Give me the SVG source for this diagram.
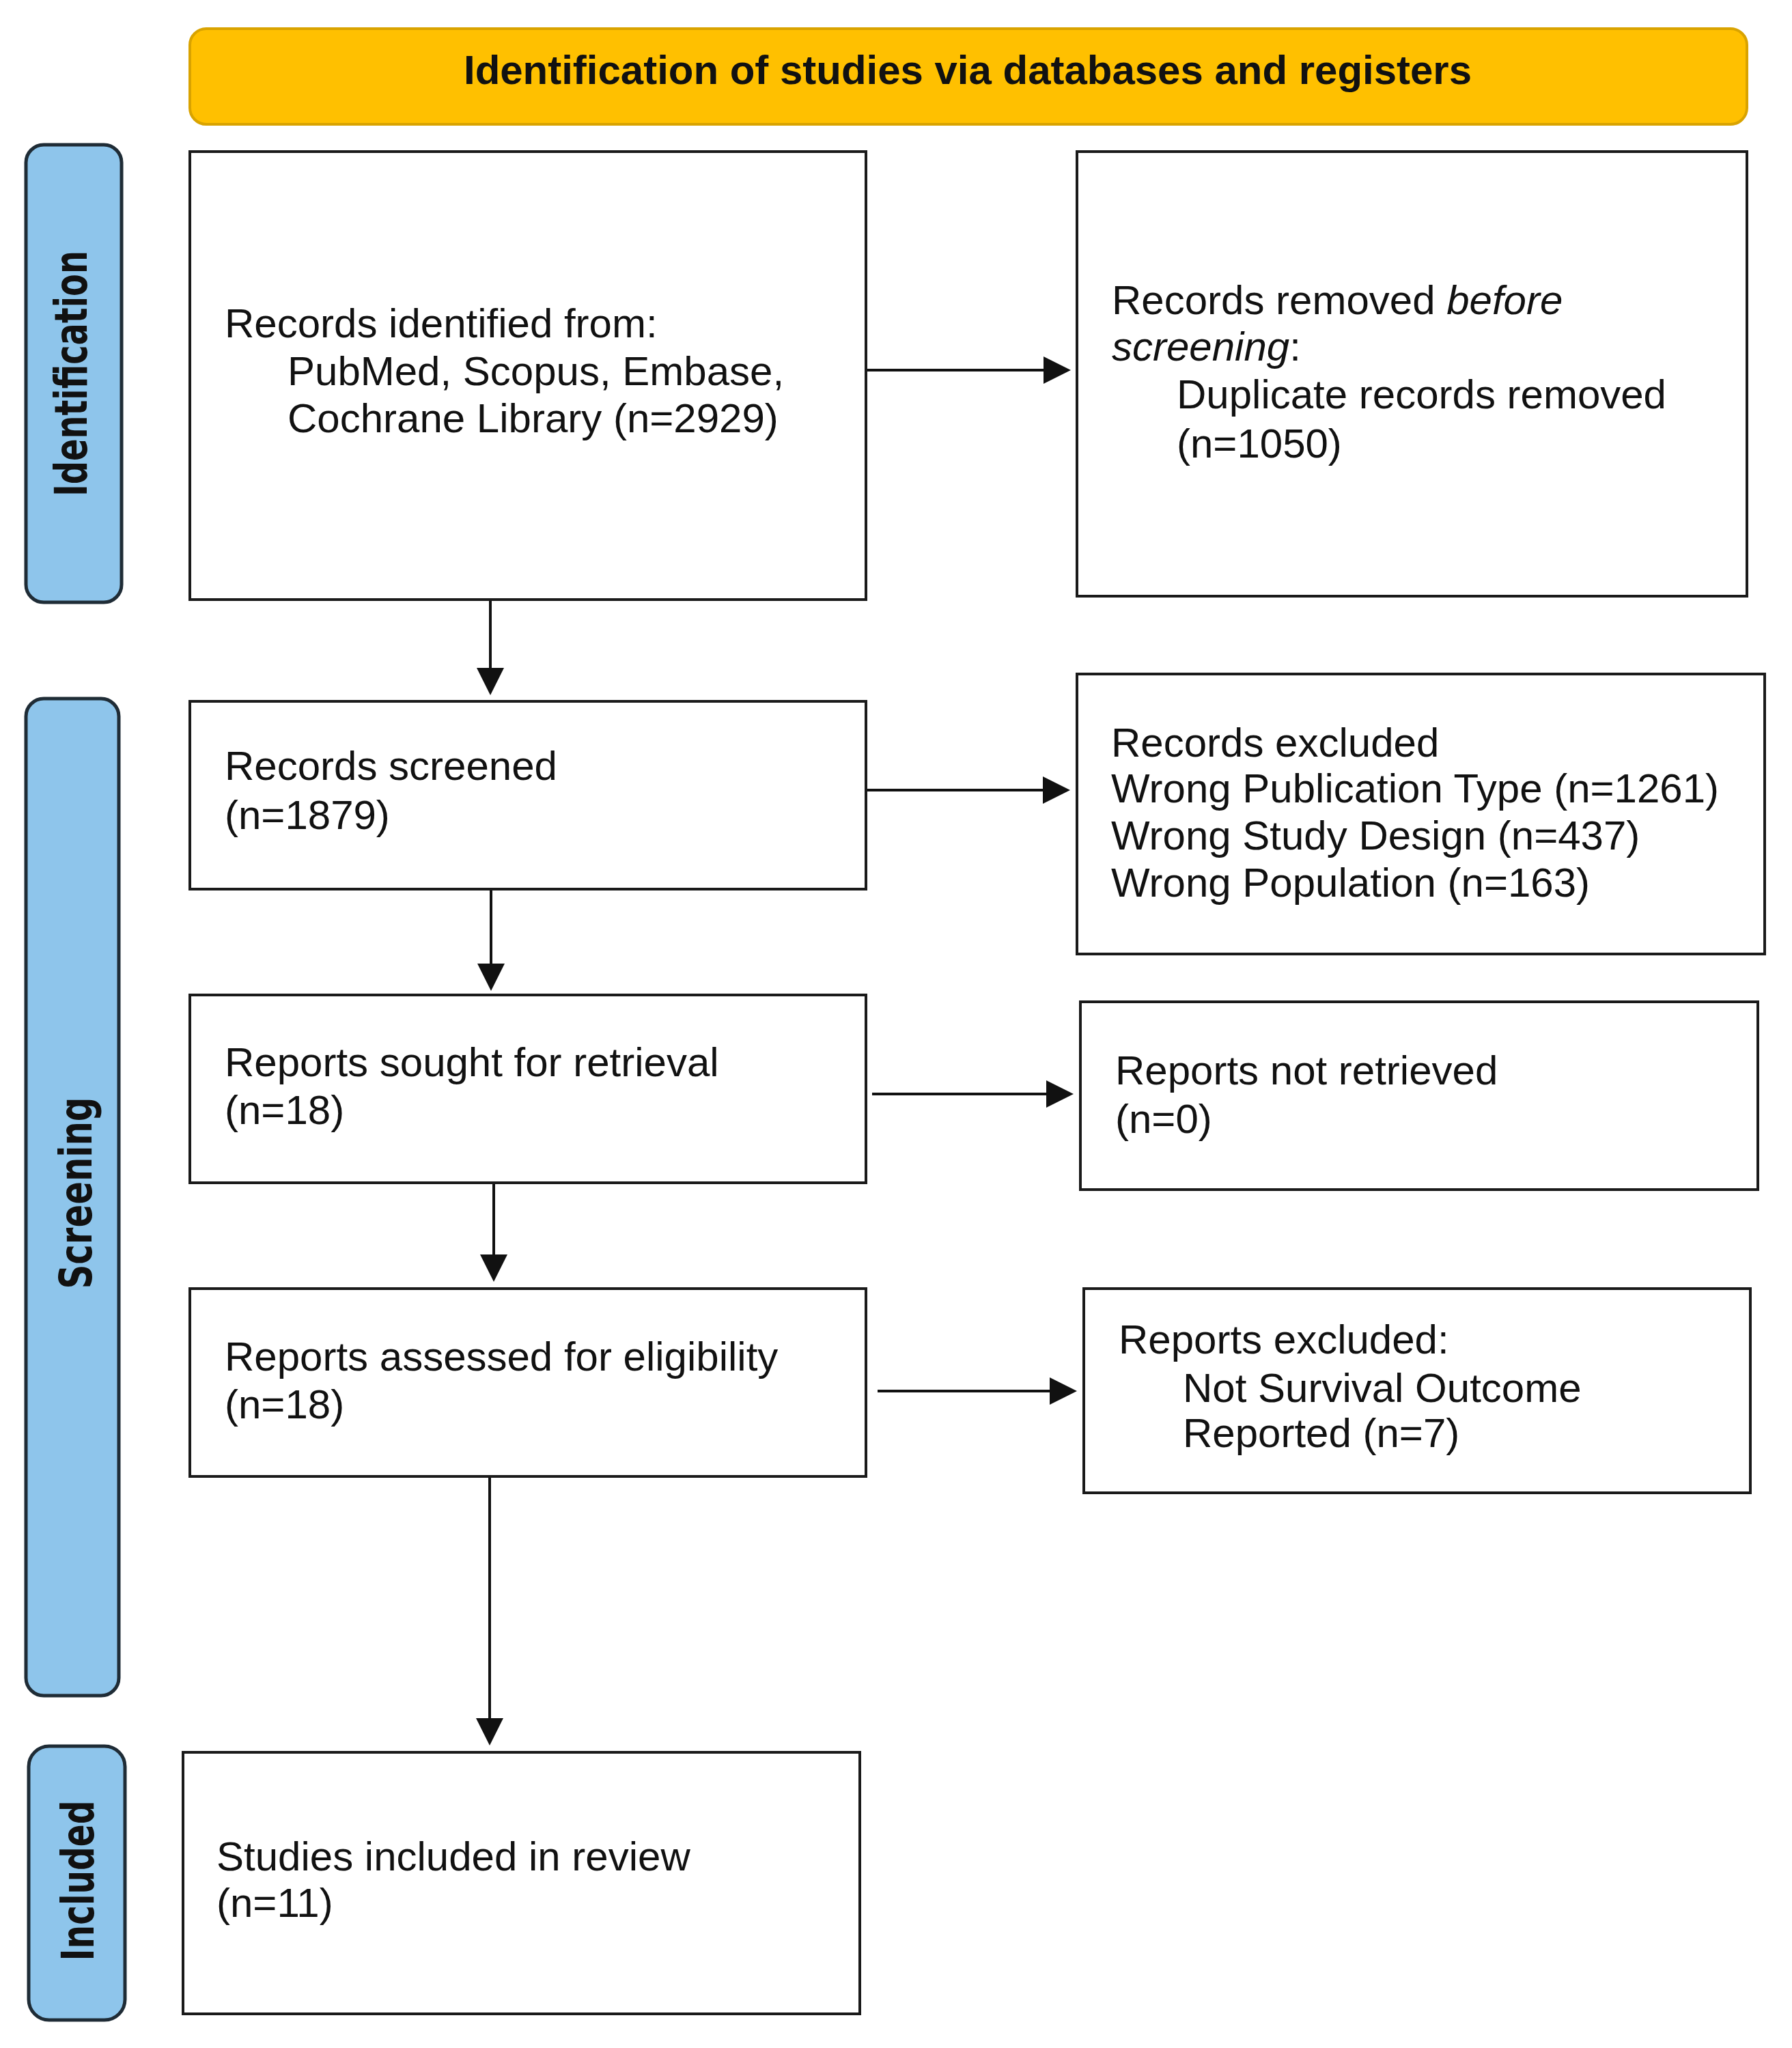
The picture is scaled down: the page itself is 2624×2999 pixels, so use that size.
<svg xmlns="http://www.w3.org/2000/svg" width="2624" height="2999" viewBox="0 0 2624 2999">
<style>
.box{fill:#fff;stroke:#1a1a1a;stroke-width:4}
.bar{fill:#8EC5EB;stroke:#1f2c36;stroke-width:5}
.lbl{font-family:"DejaVu Sans",Verdana,sans-serif;font-weight:bold;font-size:66px;fill:#111}
.t{font-family:"Liberation Sans",Arial,sans-serif;font-size:60px;fill:#111}
.conn{stroke:#111;stroke-width:4;fill:none}
</style>
<defs>
<marker id="ah" viewBox="0 0 40 40" markerWidth="40" markerHeight="40" refX="0" refY="20" orient="auto" markerUnits="userSpaceOnUse">
<path d="M0,0 L40,20 L0,40 z" fill="#111"/>
</marker>
</defs>
<rect width="2624" height="2999" fill="#fff"/>
<g id="header">
<rect x="278" y="42" width="2280" height="140" rx="24" fill="#FFC000" stroke="#D9A300" stroke-width="4"/>
<text x="1417" y="123" text-anchor="middle" font-family="'Liberation Sans',Arial,sans-serif" font-weight="bold" font-size="59" fill="#111" textLength="1476" lengthAdjust="spacingAndGlyphs">Identification of studies via databases and registers</text>
</g>
<g id="phase-identification">
<rect class="bar" x="38" y="212" width="140" height="670" rx="26"/>
<text class="lbl" transform="translate(127,547) rotate(-90)" text-anchor="middle" textLength="360" lengthAdjust="spacingAndGlyphs">Identification</text>
</g>
<g id="phase-screening">
<rect class="bar" x="38" y="1023" width="136" height="1460" rx="26"/>
<text class="lbl" transform="translate(134,1747) rotate(-90)" text-anchor="middle" textLength="281" lengthAdjust="spacingAndGlyphs">Screening</text>
</g>
<g id="phase-included">
<rect class="bar" x="42" y="2557" width="141" height="401" rx="30"/>
<text class="lbl" transform="translate(137,2754) rotate(-90)" text-anchor="middle" textLength="235" lengthAdjust="spacingAndGlyphs">Included</text>
</g>
<g id="records-identified">
<rect class="box" x="278" y="222" width="990" height="656"/>
<text class="t" x="329" y="494">Records identified from:</text>
<text class="t" x="421" y="564">PubMed, Scopus, Embase,</text>
<text class="t" x="421" y="633">Cochrane Library (n=2929)</text>
</g>
<g id="records-removed">
<rect class="box" x="1577" y="222" width="981" height="651"/>
<text class="t" x="1628" y="460">Records removed <tspan font-style="italic">before</tspan></text>
<text class="t" x="1628" y="528"><tspan font-style="italic">screening</tspan>:</text>
<text class="t" x="1723" y="598">Duplicate records removed</text>
<text class="t" x="1723" y="670">(n=1050)</text>
</g>
<g id="records-screened">
<rect class="box" x="278" y="1027" width="990" height="275"/>
<text class="t" x="329" y="1142">Records screened</text>
<text class="t" x="329" y="1214">(n=1879)</text>
</g>
<g id="records-excluded">
<rect class="box" x="1577" y="987" width="1007" height="410"/>
<text class="t" x="1627" y="1108">Records excluded</text>
<text class="t" x="1627" y="1175">Wrong Publication Type (n=1261)</text>
<text class="t" x="1627" y="1244">Wrong Study Design (n=437)</text>
<text class="t" x="1627" y="1313">Wrong Population (n=163)</text>
</g>
<g id="reports-sought">
<rect class="box" x="278" y="1457" width="990" height="275"/>
<text class="t" x="329" y="1576">Reports sought for retrieval</text>
<text class="t" x="329" y="1646">(n=18)</text>
</g>
<g id="reports-not-retrieved">
<rect class="box" x="1582" y="1467" width="992" height="275"/>
<text class="t" x="1633" y="1588">Reports not retrieved</text>
<text class="t" x="1633" y="1659">(n=0)</text>
</g>
<g id="reports-assessed">
<rect class="box" x="278" y="1887" width="990" height="275"/>
<text class="t" x="329" y="2007">Reports assessed for eligibility</text>
<text class="t" x="329" y="2077">(n=18)</text>
</g>
<g id="reports-excluded">
<rect class="box" x="1587" y="1887" width="976" height="299"/>
<text class="t" x="1638" y="1982">Reports excluded:</text>
<text class="t" x="1732" y="2053">Not Survival Outcome</text>
<text class="t" x="1732" y="2119">Reported (n=7)</text>
</g>
<g id="studies-included">
<rect class="box" x="268" y="2566" width="991" height="383"/>
<text class="t" x="317" y="2739">Studies included in review</text>
<text class="t" x="317" y="2807">(n=11)</text>
</g>
<g id="connectors">
<line class="conn" x1="1270" y1="542" x2="1528" y2="542" marker-end="url(#ah)"/>
<line class="conn" x1="718" y1="880" x2="718" y2="978" marker-end="url(#ah)"/>
<line class="conn" x1="1270" y1="1157" x2="1527" y2="1157" marker-end="url(#ah)"/>
<line class="conn" x1="719" y1="1304" x2="719" y2="1411" marker-end="url(#ah)"/>
<line class="conn" x1="1277" y1="1602" x2="1532" y2="1602" marker-end="url(#ah)"/>
<line class="conn" x1="723" y1="1734" x2="723" y2="1837" marker-end="url(#ah)"/>
<line class="conn" x1="1285" y1="2037" x2="1537" y2="2037" marker-end="url(#ah)"/>
<line class="conn" x1="717" y1="2164" x2="717" y2="2516" marker-end="url(#ah)"/>
</g>
</svg>
